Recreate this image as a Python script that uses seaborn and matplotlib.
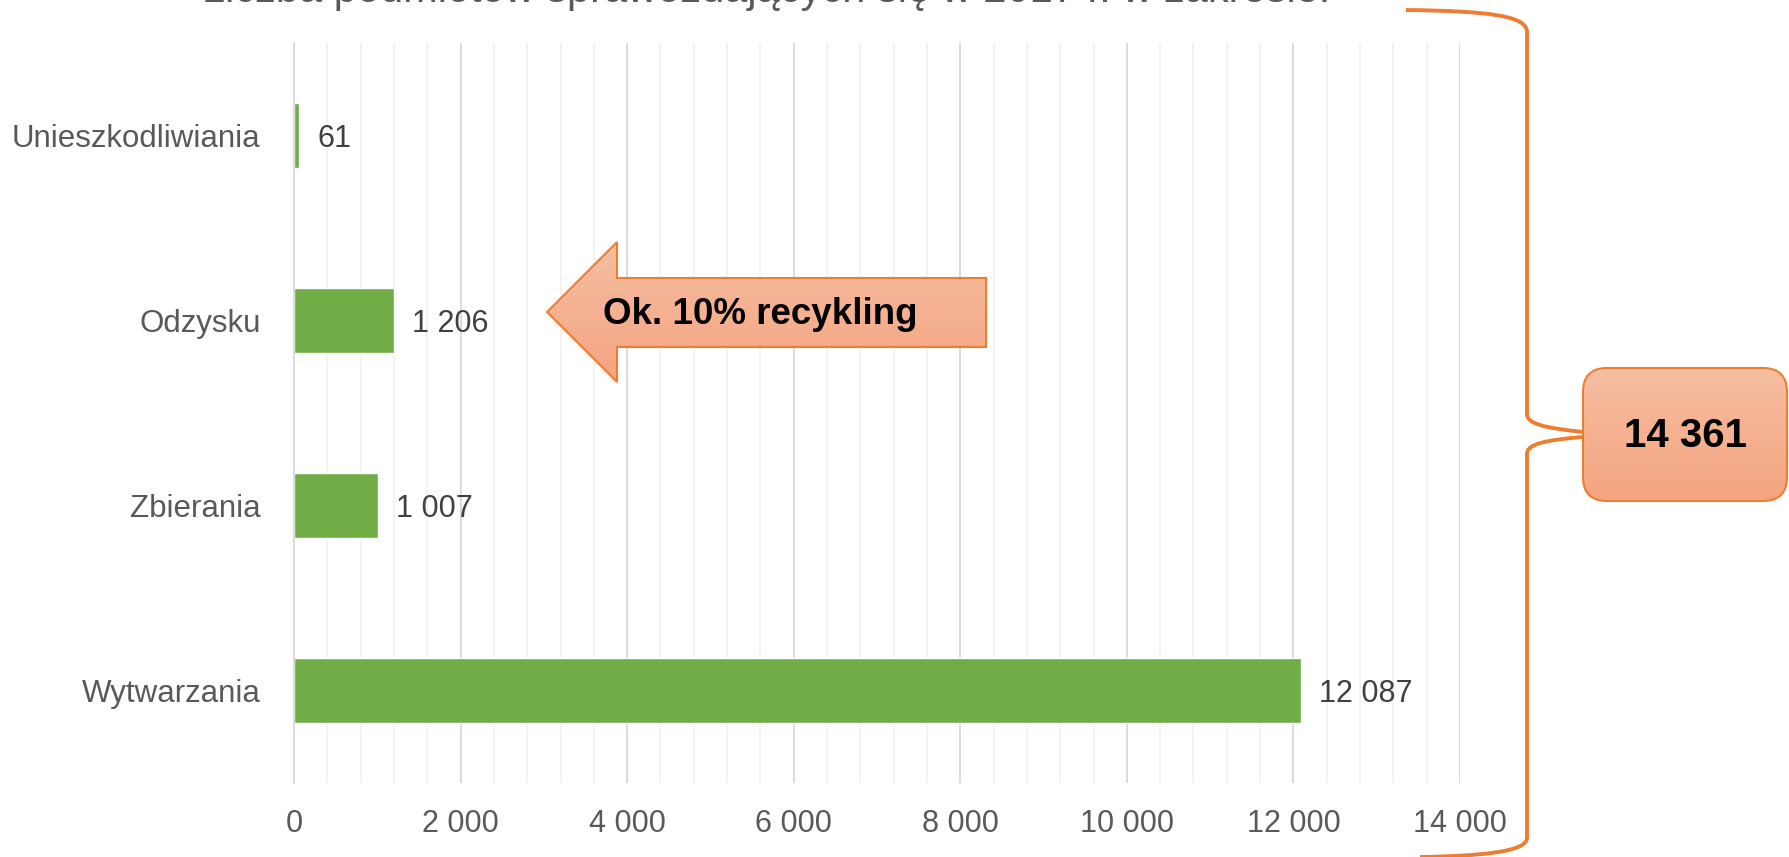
import numpy as np
import matplotlib
matplotlib.use("Agg")
import matplotlib.pyplot as plt
import seaborn as sns
from matplotlib.ticker import MultipleLocator, FixedLocator
from matplotlib.patches import Polygon, FancyBboxPatch, PathPatch
from matplotlib.path import Path
from matplotlib.colors import to_rgb

sns.set_theme(style="white")
plt.rcParams['font.family'] = ['Liberation Sans', 'DejaVu Sans']

# dane
kategorie = ['Unieszkodliwiania', 'Odzysku', 'Zbierania', 'Wytwarzania']
wartosci = [61, 1206, 1007, 12087]
suma = 14361
tytul = 'Liczba podmiotów sprawozdających się w 2017 r. w zakresie:'
strzalka_tekst = 'Ok. 10% recykling'
x_ticks = list(range(0, 14001, 2000))

def fmt(v):
    return f"{v:,}".replace(",", " ")

W, H = 1789, 857
fig = plt.figure(figsize=(W / 100, H / 100), dpi=100)
fig.patch.set_facecolor('white')

ax = fig.add_axes([294 / W, 1 - 783 / H, (1460 - 294) / W, (783 - 43) / H])
sns.barplot(x=wartosci, y=kategorie, orient='h', color='#70AD47', width=0.35,
            saturation=1, ax=ax)
ax.set_xlim(0, 14000)
ax.set_ylim(3.5, -0.5)
ax.xaxis.set_major_locator(FixedLocator(x_ticks))
ax.set_xticklabels([fmt(v) for v in x_ticks])
ax.xaxis.set_minor_locator(MultipleLocator(400))
ax.grid(which='major', axis='x', color='#D9D9D9', lw=1.3)
ax.grid(which='minor', axis='x', color='#F2F2F2', lw=1.3)
ax.grid(which='both', axis='y', visible=False)
ax.set_axisbelow(True)
for s in ['top', 'right', 'bottom']:
    ax.spines[s].set_visible(False)
ax.spines['left'].set_color('#D9D9D9')
ax.spines['left'].set_linewidth(1.3)
ax.tick_params(axis='x', which='both', length=0, pad=19, labelsize=22, labelcolor='#595959')
ax.tick_params(axis='y', length=0, pad=24, labelsize=22.5, labelcolor='#595959')
ax.set_xlabel('')
ax.set_ylabel('')
labels = ax.bar_label(ax.containers[0], labels=[fmt(v) for v in wartosci], padding=13,
                      fontsize=22, color='#404040')
for t in labels:
    t.set_va('center_baseline')

fig.text(766 / W, 1 - 2 / H, tytul, ha='center', va='baseline', fontsize=30,
         color='#595959')

# nakładka w pikselach: klamra, strzałka, ramka z sumą
ov = fig.add_axes([0, 0, 1, 1], zorder=5)
ov.set_xlim(0, W)
ov.set_ylim(H, 0)
ov.axis('off')
ov.patch.set_alpha(0)

orange = '#ED7D31'
top_c = np.array(to_rgb('#F6BEA3'))
bot_c = np.array(to_rgb('#F4A47F'))

def gradient_fill(patch, x0, x1, y0, y1):
    ov.add_patch(patch)
    t = np.linspace(0, 1, 100)[:, None, None]
    grad = top_c * (1 - t) + bot_c * t
    im = ov.imshow(grad, extent=(x0, x1, y1, y0), aspect='auto', zorder=1)
    im.set_clip_path(patch)

arrow_pts = [(547, 312), (617, 242), (617, 278), (986, 278), (986, 347),
             (617, 347), (617, 382)]
arrow = Polygon(arrow_pts, closed=True, fc='none', ec=orange, lw=1.5, zorder=2)
gradient_fill(arrow, 547, 986, 242, 382)
ov.text(760, 314, strzalka_tekst, ha='center', va='center', fontsize=26.5,
        fontweight='bold', color='black', zorder=3)

box = FancyBboxPatch((1583, 368), 204, 133, boxstyle='round,pad=0,rounding_size=24',
                     fc='none', ec=orange, lw=1.5, zorder=2)
gradient_fill(box, 1583, 1787, 368, 501)
ov.text(1686, 436, fmt(suma), ha='center', va='center', fontsize=29,
        fontweight='bold', color='black', zorder=3)

M, L, C = Path.MOVETO, Path.LINETO, Path.CURVE4
brace_v = [(1406, 10), (1490, 11), (1527, 16), (1527, 32), (1527, 414),
           (1527, 424), (1545, 428), (1583, 432),
           (1583, 437), (1545, 440), (1527, 444), (1527, 454), (1527, 838),
           (1527, 852), (1480, 856), (1420, 857)]
brace_c = [M, C, C, C, L, C, C, C, M, C, C, C, L, C, C, C]
ov.add_patch(PathPatch(Path(brace_v, brace_c), fc='none', ec=orange, lw=2.8,
                       zorder=2, capstyle='butt'))
ov.set_xlim(0, W)
ov.set_ylim(H, 0)

fig.savefig('out.png', dpi=100, facecolor='white')
